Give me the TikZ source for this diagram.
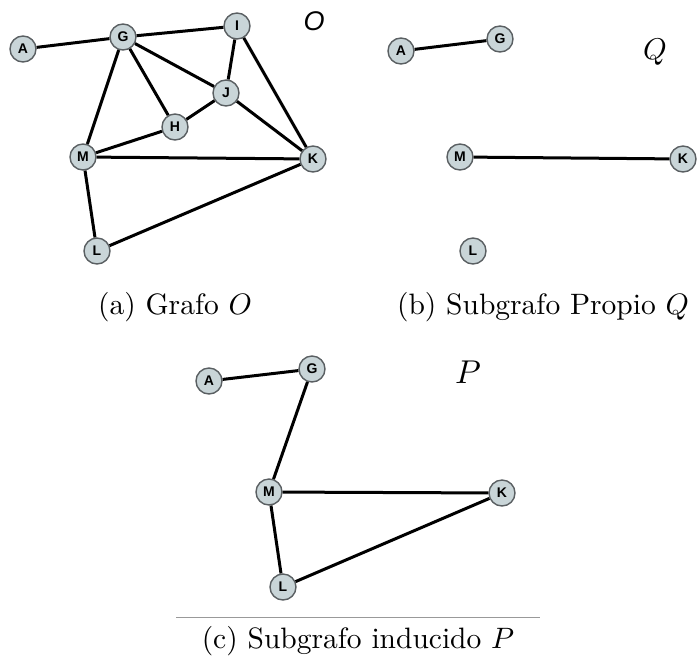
\documentclass[tikz,border=0pt]{standalone}
\usepackage{fontspec}
\newfontfamily\nodefont{Liberation Sans}
\definecolor{nodefill}{RGB}{201,213,216}
\definecolor{nodeedge}{RGB}{90,95,98}
\newcommand{\vl}[1]{\scalebox{1.4}{\nodefont\bfseries #1}}
\begin{document}
\begin{tikzpicture}[x=1pt,y=-1pt,
  vtx/.style={circle,draw=nodeedge,line width=1.4pt,fill=nodefill,minimum size=26pt,inner sep=0pt},
  link/.style={line width=3pt,black},
  captxt/.style={anchor=base,inner sep=0pt},
  sepline/.style={line width=1pt,black!40}]
\useasboundingbox (0,0) rectangle (698,662);
% panel a
\node[vtx] (aA) at (23,49) {\vl{A}};
\node[vtx] (aG) at (123,37) {\vl{G}};
\node[vtx] (aI) at (237,26) {\vl{I}};
\node[vtx] (aJ) at (226,93) {\vl{J}};
\node[vtx] (aH) at (175,127) {\vl{H}};
\node[vtx] (aM) at (83,157) {\vl{M}};
\node[vtx] (aK) at (313,159) {\vl{K}};
\node[vtx] (aL) at (97,251) {\vl{L}};
\node[inner sep=0pt] (aO) at (314,21) {\scalebox{2.7}{\nodefont\itshape O}};
\draw[link] (aA) -- (aG);
\draw[link] (aG) -- (aI);
\draw[link] (aG) -- (aJ);
\draw[link] (aG) -- (aH);
\draw[link] (aG) -- (aM);
\draw[link] (aI) -- (aJ);
\draw[link] (aI) -- (aK);
\draw[link] (aJ) -- (aH);
\draw[link] (aJ) -- (aK);
\draw[link] (aH) -- (aM);
\draw[link] (aM) -- (aK);
\draw[link] (aM) -- (aL);
\draw[link] (aL) -- (aK);
\node[captxt] (capa) at (175,314) {\scalebox{2.95}{(a) Grafo $O$}};
% panel b
\node[vtx] (bA) at (401,51) {\vl{A}};
\node[vtx] (bG) at (500,39) {\vl{G}};
\node[vtx] (bM) at (460,157) {\vl{M}};
\node[vtx] (bK) at (683,159) {\vl{K}};
\node[vtx] (bL) at (473,251) {\vl{L}};
\node[inner sep=0pt] (bQ) at (655,52) {\scalebox{3.0}{$Q$}};
\draw[link] (bA) -- (bG);
\draw[link] (bM) -- (bK);
\node[captxt] (capb) at (543,314) {\scalebox{2.95}{(b) Subgrafo Propio $Q$}};
% panel c
\node[vtx] (cA) at (209,381) {\vl{A}};
\node[vtx] (cG) at (312,369) {\vl{G}};
\node[vtx] (cM) at (269,492) {\vl{M}};
\node[vtx] (cK) at (502,493) {\vl{K}};
\node[vtx] (cL) at (283,587) {\vl{L}};
\node[inner sep=0pt] (cP) at (468,372) {\scalebox{3.3}{$P$}};
\draw[link] (cA) -- (cG);
\draw[link] (cG) -- (cM);
\draw[link] (cM) -- (cK);
\draw[link] (cM) -- (cL);
\draw[link] (cL) -- (cK);
\coordinate (r1) at (176,617);
\coordinate (r2) at (540,617);
\draw[sepline] (r1) -- (r2);
\node[captxt] (capc) at (358,648) {\scalebox{2.95}{(c) Subgrafo inducido $P$}};
\end{tikzpicture}
\end{document}
